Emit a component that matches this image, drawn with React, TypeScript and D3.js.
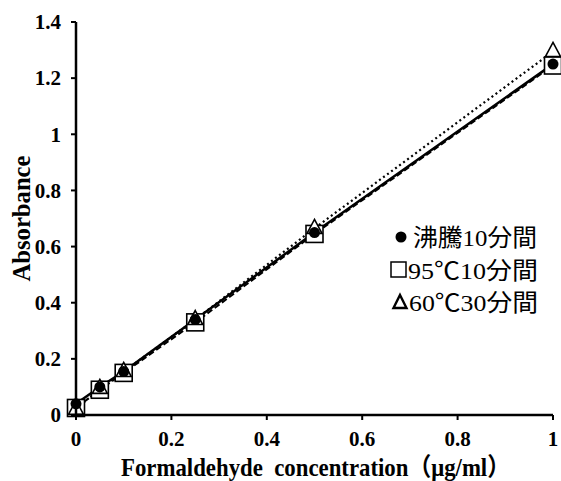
import React from "react";
import * as d3 from "d3";

const concentrations = [0, 0.05, 0.1, 0.25, 0.5, 1];
const boiling10 = [0.04, 0.1, 0.155, 0.34, 0.65, 1.25];
const c95min10 = [0.025, 0.09, 0.15, 0.33, 0.645, 1.245];
const c60min30 = [0.02, 0.095, 0.155, 0.34, 0.665, 1.295];
const xTicks = [0, 0.2, 0.4, 0.6, 0.8, 1];
const yTicks = [0, 0.2, 0.4, 0.6, 0.8, 1, 1.2, 1.4];
const legendLabels = ["沸騰10分間", "95℃10分間", "60℃30分間"];
const xTitle = "Formaldehyde  concentration（μg/ml）";
const yTitle = "Absorbance";

const SERIF = "'Liberation Serif', 'Times New Roman', serif";
const MIXED = "'Liberation Serif', 'Noto Sans CJK JP', serif";
const CJK = "'Noto Sans CJK JP', sans-serif";

function MixedText({ s }: { s: string }) {
  const runs = s.match(/[0-9]+|[^0-9]+/g) || [];
  return (
    <>
      {runs.map((r, i) => (
        <tspan key={i} fontFamily={/[0-9]/.test(r) ? SERIF : CJK}>{r}</tspan>
      ))}
    </>
  );
}

export default function App() {
  const W = 561, H = 481;
  const x = d3.scaleLinear().domain([0, 1]).range([76, 553]);
  const y = d3.scaleLinear().domain([0, 1.4]).range([415, 22]);
  const line = d3.line<number>().x((_, i) => x(concentrations[i])).y((d) => y(d));

  const square = (cx: number, cy: number, k: string) => (
    <rect key={k} x={cx - 8.5} y={cy - 8.5} width={17} height={17} fill="white" stroke="black" strokeWidth={1.6} />
  );
  const tri = (cx: number, cy: number, k: string) => (
    <path key={k} d={`M${cx},${cy - 9} L${cx + 7.5},${cy + 5} L${cx - 7.5},${cy + 5} Z`} fill="white" stroke="black" strokeWidth={1.6} />
  );
  const circ = (cx: number, cy: number, k: string) => (
    <circle key={k} cx={cx} cy={cy} r={5.5} fill="black" />
  );

  const legendY = [237, 270, 302];

  return (
    <svg width={W} height={H} style={{ position: "absolute", left: 0, top: 0, background: "white" }}>
      <path d={line(c95min10) || ""} fill="none" stroke="black" strokeWidth={2} strokeDasharray="6,3" />
      <path d={line(c60min30) || ""} fill="none" stroke="black" strokeWidth={2.2} strokeDasharray="2,3" />
      <path d={line(boiling10) || ""} fill="none" stroke="black" strokeWidth={2.5} />
      {c95min10.map((v, i) => square(x(concentrations[i]), y(v), "s" + i))}
      {c60min30.map((v, i) => tri(x(concentrations[i]), y(v), "t" + i))}
      {boiling10.map((v, i) => circ(x(concentrations[i]), y(v), "c" + i))}
      <line x1={x(0)} x2={x(1)} y1={y(0)} y2={y(0)} stroke="black" strokeWidth={2.5} />
      <line x1={x(0)} x2={x(0)} y1={y(0)} y2={y(1.4)} stroke="black" strokeWidth={2.5} />
      {yTicks.map((t) => (
        <g key={"yt" + t}>
          <line x1={x(0) - 5} x2={x(0)} y1={y(t)} y2={y(t)} stroke="black" strokeWidth={2} />
          <text x={x(0) - 15} y={y(t)} dy="0.35em" textAnchor="end" fontFamily={SERIF} fontWeight="bold" fontSize={21}>
            {String(t)}
          </text>
        </g>
      ))}
      {xTicks.map((t) => (
        <g key={"xt" + t}>
          <line x1={x(t)} x2={x(t)} y1={y(0)} y2={y(0) + 5} stroke="black" strokeWidth={2} />
          <text x={x(t)} y={y(0) + 31} textAnchor="middle" fontFamily={SERIF} fontWeight="bold" fontSize={21}>
            {String(t)}
          </text>
        </g>
      ))}
      <text transform={`translate(30,${(y(0) + y(1.4)) / 2}) rotate(-90)`} textAnchor="middle" fontFamily={SERIF} fontWeight="bold" fontSize={25} textLength={126} lengthAdjust="spacingAndGlyphs">
        {yTitle}
      </text>
      <text x={121} y={476} textAnchor="start" fontFamily={MIXED} fontWeight="bold" fontSize={25} textLength={389} lengthAdjust="spacingAndGlyphs" style={{ whiteSpace: "pre" }}>
        {xTitle}
      </text>
      <g fontSize={24}>
        <circle cx={401} cy={legendY[0]} r={5.5} fill="black" />
        <rect x={391} y={legendY[1] - 8} width={15} height={15} fill="white" stroke="black" strokeWidth={1.5} />
        <path d={`M400,${legendY[2] - 7} L406.5,${legendY[2] + 6} L393.5,${legendY[2] + 6} Z`} fill="white" stroke="black" strokeWidth={2.4} />
        <text x={413} y={legendY[0]} dy="0.36em" textLength={124} lengthAdjust="spacingAndGlyphs"><MixedText s={legendLabels[0]} /></text>
        <text x={408} y={legendY[1]} dy="0.36em" textLength={130} lengthAdjust="spacingAndGlyphs"><MixedText s={legendLabels[1]} /></text>
        <text x={409} y={legendY[2]} dy="0.36em" textLength={129} lengthAdjust="spacingAndGlyphs"><MixedText s={legendLabels[2]} /></text>
      </g>
    </svg>
  );
}
